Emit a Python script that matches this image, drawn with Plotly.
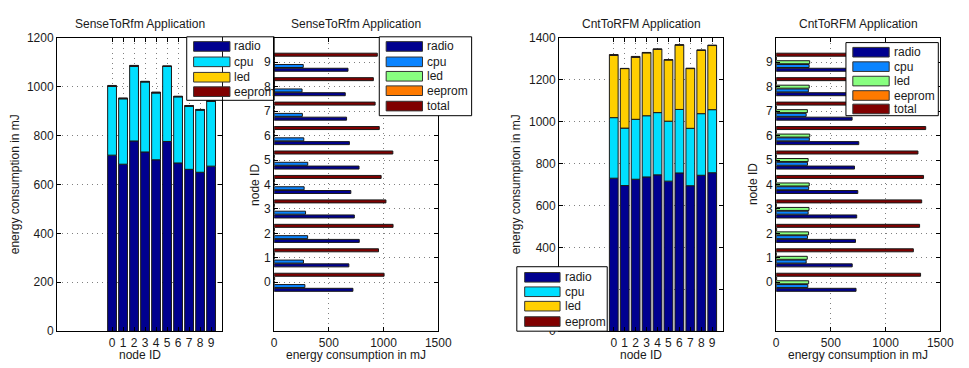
import numpy as np
import plotly.graph_objects as go

W, H = 969, 368

nodes = list(range(10))
stack_series = ["radio", "cpu", "led", "eeprom"]
group_series = ["radio", "cpu", "led", "eeprom", "total"]

# SenseToRfm Application
s_radio = [720, 683, 778, 733, 701, 776, 688, 662, 650, 675]
s_cpu = [281, 268, 306, 287, 274, 307, 271, 258, 255, 266]
s_led = [0, 0, 0, 0, 0, 0, 0, 0, 0, 0]
s_eeprom = [4, 3, 3, 2, 3, 2, 2, 3, 2, 2]

# CntToRFM Application
c_radio = [730, 695, 725, 736, 746, 716, 755, 694, 744, 756]
c_cpu = [289, 274, 286, 292, 297, 286, 303, 274, 294, 301]
c_led = [297, 284, 296, 300, 302, 292, 307, 285, 302, 306]
c_eeprom = [4, 1, 4, 2, 2, 2, 2, 2, 2, 2]

stack_colors = ["#00008F", "#00DFFF", "#FFCF00", "#800000"]
group_colors = ["#00008F", "#0A84FF", "#88FF80", "#FF7A00", "#800000"]

y_ticks_s = [0, 200, 400, 600, 800, 1000, 1200]
y_ticks_c = [0, 200, 400, 600, 800, 1000, 1200, 1400]
x_ticks_h = [0, 500, 1000, 1500]

FONT = "Liberation Sans, Arial, Helvetica, sans-serif"
TXT = "#1a1a1a"
FS = 12


def px(x):
    return x / W


def py(y):
    return 1 - y / H


fig = go.Figure()

panels = {
    1: (55, 223),
    2: (276, 443),
    3: (566, 733),
    4: (787, 954),
}
Y0, Y1 = 32, 337


def add_stacked(data, xa, ya):
    base = np.zeros(len(nodes))
    for name, vals, col in zip(stack_series, data, stack_colors):
        v = np.array(vals, dtype=float)
        fig.add_trace(go.Bar(
            x=nodes, y=v, base=base.copy(), name=name,
            marker=dict(color=col, line=dict(color="#1a1a1a", width=1)),
            width=0.8, offset=-0.4,
            xaxis=xa, yaxis=ya, showlegend=False))
        base = base + v


def add_grouped(data, xa, ya):
    total = np.sum(np.array(data, dtype=float), axis=0)
    vals_all = list(data) + [total]
    slot = 0.154
    bw = 0.123
    for i, (name, vals, col) in enumerate(zip(group_series, vals_all, group_colors)):
        fig.add_trace(go.Bar(
            y=nodes, x=list(vals), name=name, orientation="h",
            marker=dict(color=col, line=dict(color="#1a1a1a", width=1)),
            width=bw, offset=(i - 2) * slot - bw / 2,
            xaxis=xa, yaxis=ya, showlegend=False))


add_stacked([s_radio, s_cpu, s_led, s_eeprom], "x", "y")
add_grouped([s_radio, s_cpu, s_led, s_eeprom], "x2", "y2")
add_stacked([c_radio, c_cpu, c_led, c_eeprom], "x3", "y3")
add_grouped([c_radio, c_cpu, c_led, c_eeprom], "x4", "y4")

axis_common = dict(
    showline=True, linecolor="black", linewidth=1, mirror="ticks",
    ticks="inside", ticklen=4, tickcolor="black",
    showgrid=True, gridcolor="#808080", griddash="1px,4px", gridwidth=1,
    zeroline=False, tickfont=dict(size=FS, color=TXT, family=FONT),
)

ydom = [py(Y1), py(Y0)]

layout = dict(
    width=W, height=H, margin=dict(l=0, r=0, t=0, b=0),
    paper_bgcolor="white", plot_bgcolor="white",
    barmode="overlay", showlegend=False,
    font=dict(family=FONT, size=FS, color=TXT),
)

layout["xaxis"] = dict(axis_common, domain=[px(55), px(223)], range=[-5, 10],
                       tickvals=nodes, anchor="y")
layout["yaxis"] = dict(axis_common, domain=ydom, range=[0, 1200],
                       tickvals=y_ticks_s, anchor="x")
layout["xaxis2"] = dict(axis_common, domain=[px(276), px(443)], range=[0, 1500],
                        tickvals=x_ticks_h, anchor="y2")
layout["yaxis2"] = dict(axis_common, domain=ydom, range=[-2, 10],
                        tickvals=nodes, anchor="x2")
layout["xaxis3"] = dict(axis_common, domain=[px(566), px(733)], range=[-5, 10],
                        tickvals=nodes, anchor="y3")
layout["yaxis3"] = dict(axis_common, domain=ydom, range=[0, 1400],
                        tickvals=y_ticks_c, anchor="x3")
layout["xaxis4"] = dict(axis_common, domain=[px(787), px(954)], range=[0, 1500],
                        tickvals=x_ticks_h, anchor="y4")
layout["yaxis4"] = dict(axis_common, domain=ydom, range=[-2, 10],
                        tickvals=nodes, anchor="x4")

fig.update_layout(**layout)

shapes = []
annotations = []


def text(x, y, s, size=FS, xanchor="center", yanchor="middle", angle=0):
    annotations.append(dict(
        x=px(x), y=py(y), xref="paper", yref="paper", text=s, showarrow=False,
        xanchor=xanchor, yanchor=yanchor, textangle=angle,
        font=dict(family=FONT, size=size, color=TXT)))


titles = ["SenseToRfm Application", "SenseToRfm Application",
          "CntToRFM Application", "CntToRFM Application"]
for k, t in zip([1, 2, 3, 4], titles):
    a, b = panels[k]
    text((a + b) / 2, 18, t)

text(139, 362, "node ID")
text(359.5, 362, "energy consumption in mJ")
text(649.5, 362, "node ID")
text(870.5, 362, "energy consumption in mJ")
text(13, 184.5, "energy consumption in mJ", angle=-90)
text(257, 184.5, "node ID", angle=-90)
text(523, 184.5, "energy consumption in mJ", angle=-90)
text(764, 184.5, "node ID", angle=-90)


def draw_legend(box, labels, colors, sw, rows, tx, fill_x1=None):
    x0, y0, x1, y1 = box
    fx1 = fill_x1 if fill_x1 is not None else x1
    shapes.append(dict(type="rect", xref="paper", yref="paper", layer="above",
                       x0=px(x0), x1=px(fx1), y0=py(y1), y1=py(y0),
                       fillcolor="white", line=dict(width=0)))
    shapes.append(dict(type="rect", xref="paper", yref="paper", layer="above",
                       x0=px(x0), x1=px(x1), y0=py(y1), y1=py(y0),
                       fillcolor="rgba(0,0,0,0)", line=dict(color="black", width=1)))
    for lab, col, ry in zip(labels, colors, rows):
        shapes.append(dict(type="rect", xref="paper", yref="paper", layer="above",
                           x0=px(sw[0]), x1=px(sw[1]), y0=py(ry + 5), y1=py(ry - 5),
                           fillcolor=col, line=dict(color="#333333", width=1)))
        text(tx, ry, lab, xanchor="left")


draw_legend((187, 31, 276, 97), stack_series, stack_colors, (194, 231),
            [41, 57, 73, 88], 233, fill_x1=223)
draw_legend((383, 31, 477, 113), group_series, group_colors, (390, 427),
            [41, 57, 72, 87, 103], 430)
draw_legend((523, 270, 615, 337), stack_series, stack_colors, (531, 567),
            [281, 296, 311, 327], 570)
draw_legend((858, 37, 952, 113), group_series, group_colors, (865, 902),
            [47, 62, 77, 92, 106], 905)

fig.update_layout(shapes=shapes, annotations=annotations)

fig.write_html("out.html")
